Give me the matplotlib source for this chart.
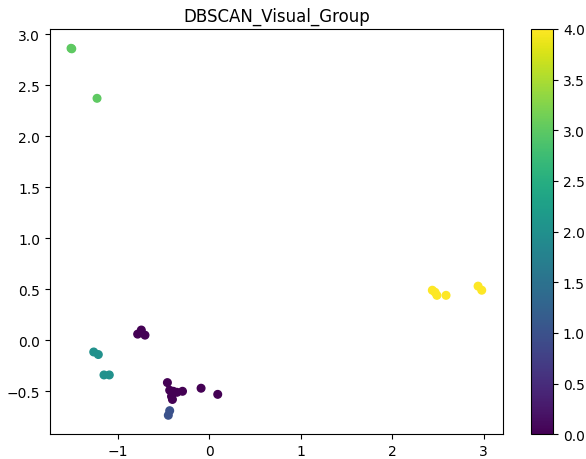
import numpy as np
import matplotlib
matplotlib.use("Agg")
import matplotlib.pyplot as plt

# points, grouped by DBSCAN label
x = [-0.78, -0.74, -0.70,
     -0.455, -0.43, -0.39, -0.35, -0.29, -0.40, -0.41, -0.087, 0.095,
     -0.43, -0.445,
     -1.26, -1.21, -1.148, -1.09,
     -1.508, -1.50, -1.224,
     2.44, 2.47, 2.49, 2.59, 2.94, 2.98]
y = [0.06, 0.10, 0.05,
     -0.415, -0.49, -0.50, -0.51, -0.50, -0.58, -0.55, -0.47, -0.53,
     -0.69, -0.735,
     -0.115, -0.14, -0.34, -0.34,
     2.86, 2.855, 2.37,
     0.49, 0.47, 0.44, 0.44, 0.53, 0.49]
labels = [0, 0, 0,
          0, 0, 0, 0, 0, 0, 0, 0, 0,
          1, 1,
          2, 2, 2, 2,
          3, 3, 3,
          4, 4, 4, 4, 4, 4]

fig = plt.figure(figsize=(5.86, 4.6), dpi=100)
ax = fig.add_axes([0.085, 0.054, 0.773, 0.881])
sc = ax.scatter(x, y, c=labels, cmap="viridis", s=30)
ax.set_xlim(-1.74, 3.21)
ax.set_ylim(-0.92, 3.05)
ax.set_title("DBSCAN_Visual_Group")

cax = fig.add_axes([0.906, 0.054, 0.038, 0.881])
fig.colorbar(sc, cax=cax)

fig.savefig("out.png", dpi=100)
